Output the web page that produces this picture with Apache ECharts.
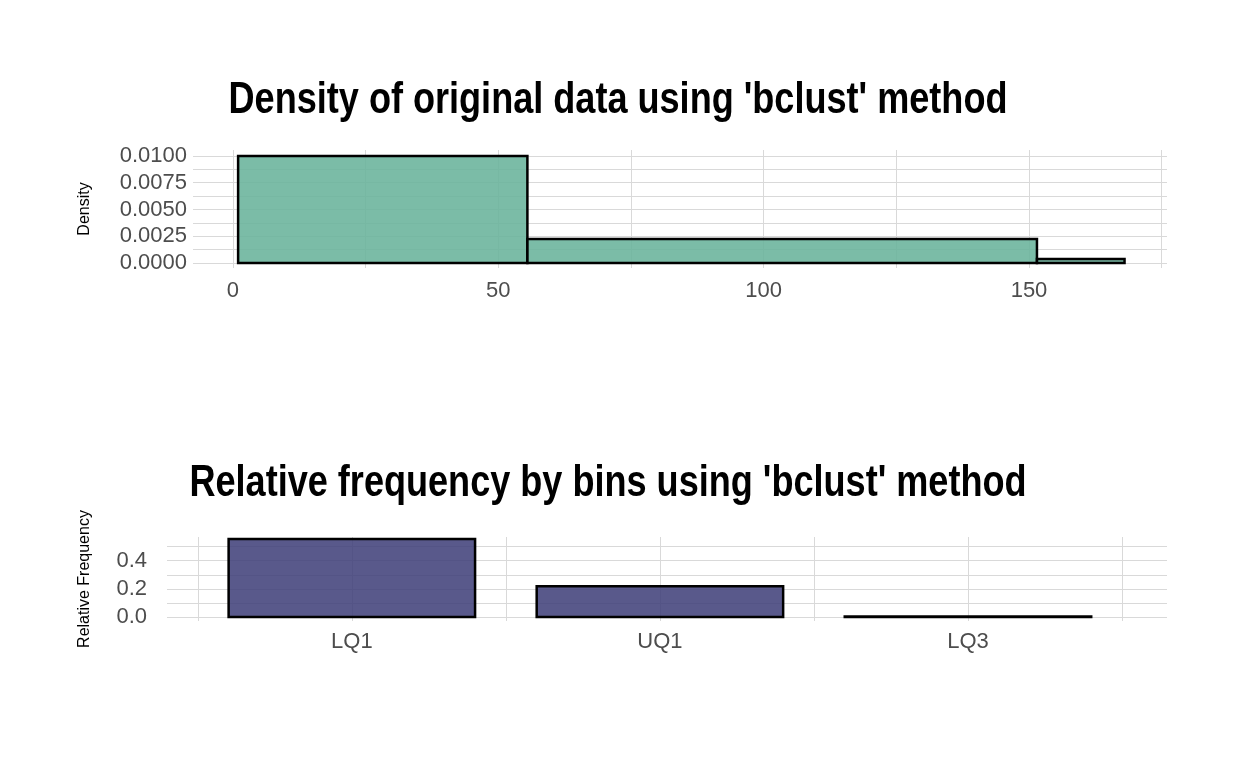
<!DOCTYPE html>
<html><head><meta charset="utf-8">
<script src="https://cdn.jsdelivr.net/npm/echarts@6/dist/echarts.min.js"></script>
<style>html,body{margin:0;background:#fff}#c{width:1248px;height:768px}</style>
</head><body><div id="c"></div>
<script>
// density histogram bins: [start, end, density]
const densityBins = [[1, 55.5, 0.0100], [55.5, 151.5, 0.00224], [151.5, 168, 0.00037]];
const freqCats = ['LQ1', 'UQ1', 'LQ3'];
const freqVals = [0.554, 0.218, 0.004];
const densTicks = [0, 0.00125, 0.0025, 0.00375, 0.005, 0.00625, 0.0075, 0.00875, 0.01];
const densXTicks = [0, 25, 50, 75, 100, 125, 150, 175];
const freqTicks = [0, 0.1, 0.2, 0.3, 0.4, 0.5];

const font = '"Liberation Sans", sans-serif';
const grey = '#4d4d4d';
const chart = echarts.init(document.getElementById('c'));

function isMult(v, step) {
  const r = v / step;
  return Math.abs(r - Math.round(r)) < 1e-6;
}

function rectItem(fill) {
  return function (params, api) {
    const p0 = api.coord([api.value(0), api.value(2)]);
    const p1 = api.coord([api.value(1), 0]);
    return { type: 'rect', shape: { x: p0[0], y: p0[1], width: p1[0] - p0[0], height: p1[1] - p0[1] },
      style: { fill: fill, stroke: '#000', lineWidth: 2.5 } };
  };
}

function titleText(text, x, y) {
  return { type: 'text', x: x, y: y, scaleX: 0.82,
    style: { text: text, align: 'center', verticalAlign: 'middle', font: 'bold 44px ' + font, fill: '#000' } };
}

chart.setOption({
  animation: false,
  graphic: [
    titleText("Density of original data using 'bclust' method", 618, 101),
    titleText("Relative frequency by bins using 'bclust' method", 608, 484)
  ],
  grid: [
    { left: 193, right: 81, top: 150, height: 118 },
    { left: 167, right: 81, top: 537, height: 84 }
  ],
  xAxis: [
    { type: 'value', gridIndex: 0, min: -7.5, max: 176,
      axisLine: { show: false }, axisTick: { show: false, customValues: densXTicks },
      axisLabel: { customValues: densXTicks, formatter: v => (v % 50 === 0 ? String(v) : ''), fontFamily: font, fontSize: 22, color: grey, margin: 12 },
      splitLine: { show: true, lineStyle: { color: '#d9d9d9' } } },
    { type: 'value', gridIndex: 1, min: 0.4, max: 3.646,
      axisLine: { show: false }, axisTick: { show: false, customValues: [0.5, 1, 1.5, 2, 2.5, 3, 3.5] },
      axisLabel: { customValues: [0.5, 1, 1.5, 2, 2.5, 3, 3.5], formatter: v => (Number.isInteger(v) ? freqCats[v - 1] : ''), fontFamily: font, fontSize: 22, color: grey, margin: 10 },
      splitLine: { show: true, lineStyle: { color: '#d9d9d9' } } }
  ],
  yAxis: [
    { type: 'value', gridIndex: 0, min: -0.00047, max: 0.01056,
      name: 'Density', nameLocation: 'middle', nameGap: 100, nameTextStyle: { fontFamily: font, fontSize: 16, color: '#000' },
      axisLine: { show: false }, axisTick: { show: false, customValues: densTicks },
      axisLabel: { customValues: densTicks, formatter: v => (isMult(v, 0.0025) ? v.toFixed(4) : ''), fontFamily: font, fontSize: 22, color: grey, margin: 6 },
      splitLine: { show: true, lineStyle: { color: '#d9d9d9' } } },
    { type: 'value', gridIndex: 1, min: -0.028, max: 0.568,
      name: 'Relative Frequency', nameLocation: 'middle', nameGap: 74, nameTextStyle: { fontFamily: font, fontSize: 16, color: '#000' },
      axisLine: { show: false }, axisTick: { show: false, customValues: freqTicks },
      axisLabel: { customValues: freqTicks, formatter: v => (isMult(v, 0.2) ? v.toFixed(1) : ''), fontFamily: font, fontSize: 22, color: grey, margin: 20 },
      splitLine: { show: true, lineStyle: { color: '#d9d9d9' } } }
  ],
  series: [
    { type: 'custom', xAxisIndex: 0, yAxisIndex: 0, data: densityBins, renderItem: rectItem('rgba(105,179,155,0.88)') },
    { type: 'custom', xAxisIndex: 1, yAxisIndex: 1,
      data: freqVals.map((v, i) => [i + 0.6, i + 1.4, v]), renderItem: rectItem('rgba(64,64,122,0.87)') }
  ]
});
</script></body></html>
